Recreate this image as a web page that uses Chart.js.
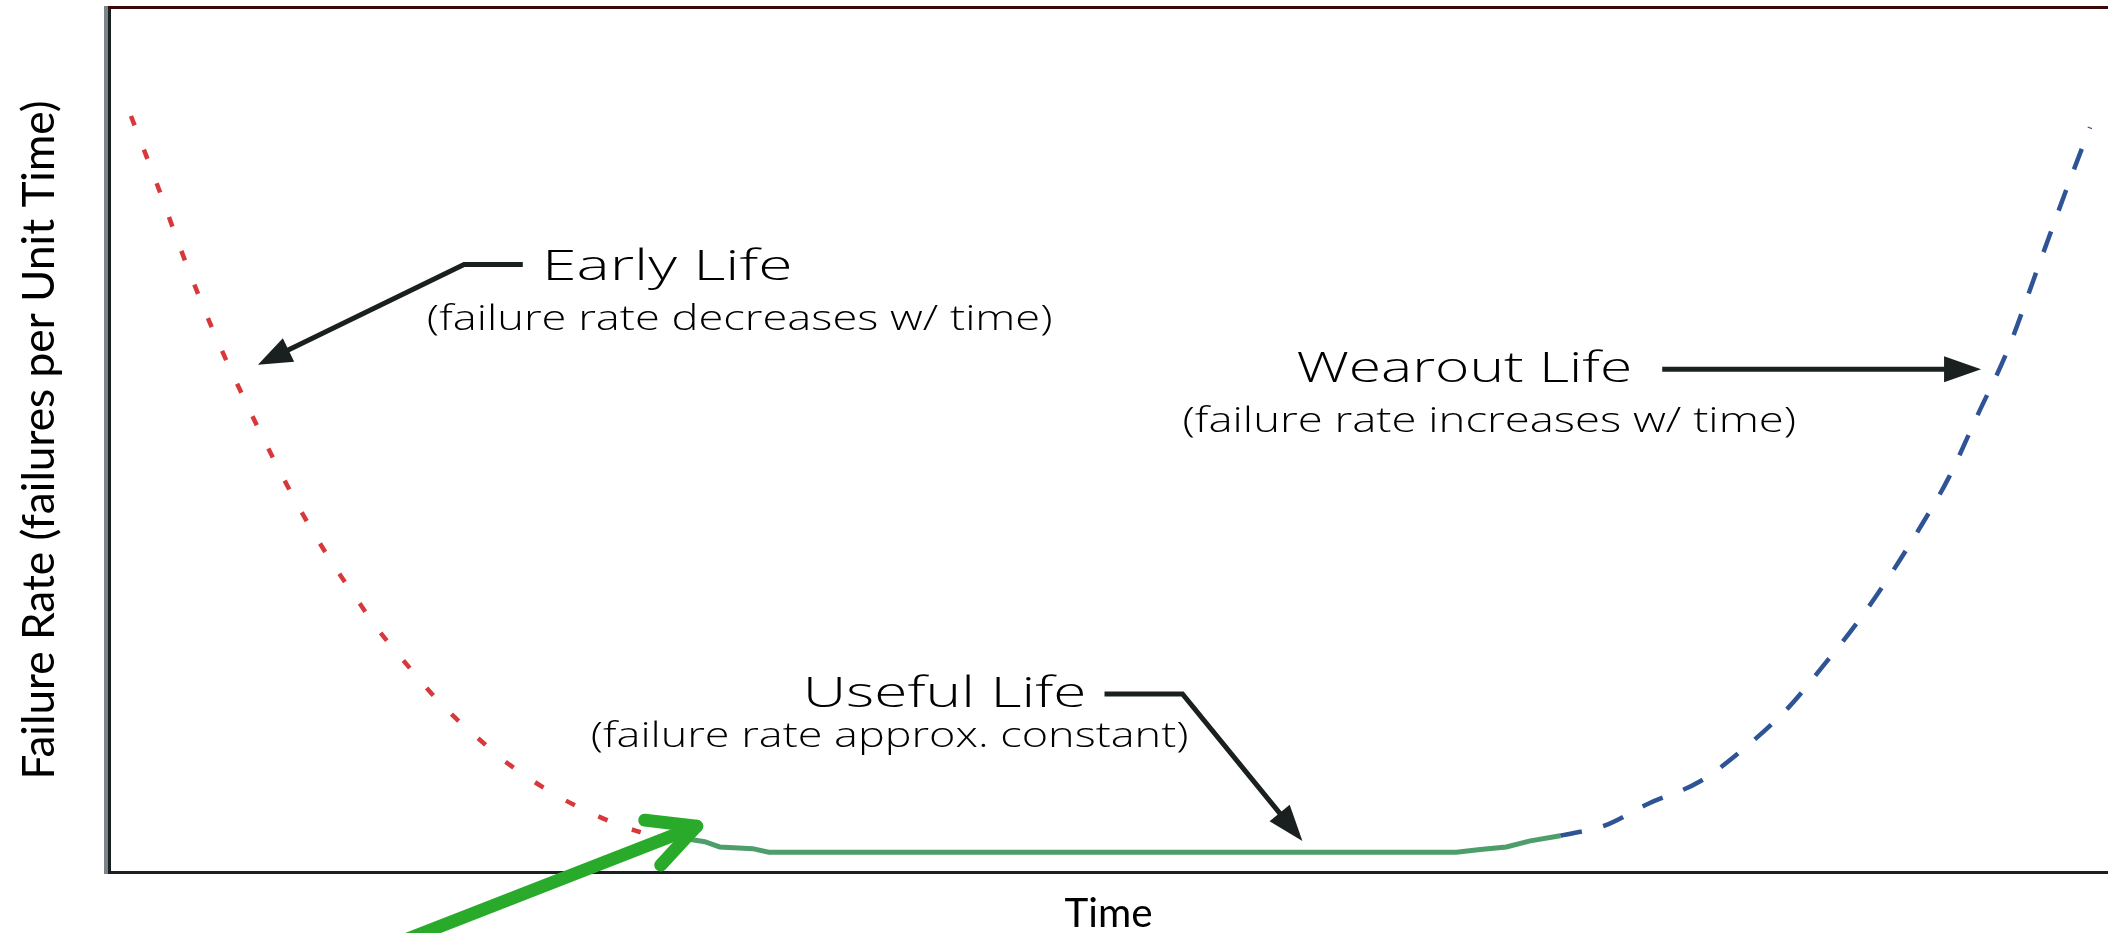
<!DOCTYPE html>
<html><head><meta charset="utf-8">
<script src="https://cdn.jsdelivr.net/npm/chart.js@4.4.1/dist/chart.umd.min.js"></script>
<style>html,body{margin:0;padding:0;background:#fff;overflow:hidden}canvas{display:block}</style>
</head><body>
<canvas id="c" width="2108" height="933"></canvas>
<script>
// ---- data (time units 0-100, failure-rate units 0-100) ----
const earlyX = [1.1, 2.5, 3.6, 5.15, 7.0, 8.3, 9.55, 11.1, 12.3, 13.35, 14.9, 16.0, 17.25, 18.55, 20.05, 22.75, 25.55, 26.6];
const earlyY = [87.5, 79.0, 72.0, 63.0, 53.6, 47.5, 42.0, 36.0, 31.9, 28.4, 24.0, 21.0, 18.0, 15.3, 12.4, 8.4, 5.4, 4.6];
const usefulX = [28.7, 29.8, 30.55, 32.2, 33.0, 67.4, 68.6, 69.9, 71.1, 72.6];
const usefulY = [3.9, 3.5, 2.9, 2.7, 2.3, 2.3, 2.6, 2.9, 3.6, 4.2];
const wearX = [72.6, 74.85, 77.0, 79.6, 81.9, 84.0, 85.8, 87.5, 89.0, 90.5, 92.0, 93.5, 95.0, 96.5, 98.0, 99.1];
const wearY = [4.2, 5.4, 7.9, 10.5, 14.5, 19.0, 24.0, 29.0, 34.0, 39.5, 45.5, 53.0, 60.5, 70.0, 79.5, 86.2];

const xTitle = 'Time';
const yTitle = 'Failure Rate (failures per Unit Time)';

// annotation texts
const earlyText = ['Early Life', '(failure rate decreases w/ time)'];
const usefulText = ['Useful Life', '(failure rate approx. constant)'];
const wearText = ['Wearout Life', '(failure rate increases w/ time)'];

// annotation anchors in data units: [xStart, xEnd, baselineY]
const earlyTextPos = [[21.66, 34.2, 68.5], [15.9, 47.2, 62.7]];
const usefulTextPos = [[34.7, 48.9, 19.1], [24.1, 54.0, 14.5]];
const wearTextPos = [[59.4, 76.2, 56.7], [53.7, 84.4, 50.9]];
const earlyArrow = [[20.7, 70.3], [17.76, 70.3], [7.45, 58.7]];
const usefulArrow = [[49.8, 20.6], [53.7, 20.6], [59.7, 3.6]];
const wearArrow = [[77.7, 58.2], [93.65, 58.2]];
const greenArrow = [[14.0, -8.6], [29.4, 5.3]];
const greenBarbs = [[26.8, 6.0], [27.6, 0.8]];

// ---- fonts ----
const AX_FAMILY = 'Lato';
const mctx = document.createElement('canvas').getContext('2d');
function textW(t, size, fam) { mctx.font = size + 'px ' + fam; return mctx.measureText(t).width; }
const ySize = 44 * 679 / textW(yTitle, 44, AX_FAMILY);
const xSize = 44 * 88 / textW(xTitle, 44, AX_FAMILY);
const yPadTop = 40 - ySize / 2;
const yPadBot = 109 - ySize - yPadTop;
const xPadBot = 19 - xSize / 2;
const xPadTop = 61 - xSize - xPadBot;

function pts(xs, ys) { return xs.map((x, i) => ({x: x, y: ys[i]})); }

function drawFitText(ctx, text, x0, x1, base, cap) {
  const size = cap / 0.714;
  ctx.font = '300 ' + size + 'px "Open Sans", "Liberation Sans", Arial, sans-serif';
  const w = ctx.measureText(text).width;
  ctx.save();
  ctx.translate(x0, base);
  ctx.scale((x1 - x0) / w, 1);
  ctx.textBaseline = 'alphabetic';
  ctx.textAlign = 'left';
  ctx.fillStyle = '#000';
  ctx.fillText(text, 0, 0);
  ctx.restore();
}

function darkArrow(ctx, p, lw, headLen, headHalf) {
  const n = p.length, tip = p[n - 1], prev = p[n - 2];
  const a = Math.atan2(tip.y - prev.y, tip.x - prev.x);
  const bx = tip.x - headLen * Math.cos(a), by = tip.y - headLen * Math.sin(a);
  ctx.save();
  ctx.strokeStyle = '#1a2020'; ctx.fillStyle = '#1a2020';
  ctx.lineWidth = lw; ctx.lineJoin = 'miter'; ctx.lineCap = 'butt';
  ctx.beginPath(); ctx.moveTo(p[0].x, p[0].y);
  for (let i = 1; i < n - 1; i++) ctx.lineTo(p[i].x, p[i].y);
  ctx.lineTo(bx + 2 * Math.cos(a), by + 2 * Math.sin(a));
  ctx.stroke();
  ctx.beginPath();
  ctx.moveTo(tip.x, tip.y);
  ctx.lineTo(bx + headHalf * Math.sin(a), by - headHalf * Math.cos(a));
  ctx.lineTo(bx - headHalf * Math.sin(a), by + headHalf * Math.cos(a));
  ctx.closePath(); ctx.fill();
  ctx.restore();
}

const annotPlugin = {
  id: 'annot',
  beforeDatasetsDraw(chart) {
    const ctx = chart.ctx, ca = chart.chartArea;
    ctx.save();
    ctx.fillStyle = '#7b838b';
    ctx.fillRect(ca.left - 5, ca.top - 2, 4, ca.bottom - ca.top + 4);
    ctx.strokeStyle = '#3a0808'; ctx.lineWidth = 3;
    ctx.beginPath(); ctx.moveTo(ca.left - 1, ca.top - 0.5); ctx.lineTo(chart.width, ca.top - 0.5); ctx.stroke();
    ctx.restore();
  },
  afterDatasetsDraw(chart) {
    const ctx = chart.ctx, sx = chart.scales.x, sy = chart.scales.y;
    const P = (d) => ({x: sx.getPixelForValue(d[0]), y: sy.getPixelForValue(d[1])});
    const texts = [[earlyText, earlyTextPos], [usefulText, usefulTextPos], [wearText, wearTextPos]];
    texts.forEach(([t, pos]) => {
      drawFitText(ctx, t[0], sx.getPixelForValue(pos[0][0]), sx.getPixelForValue(pos[0][1]), sy.getPixelForValue(pos[0][2]), 30);
      drawFitText(ctx, t[1], sx.getPixelForValue(pos[1][0]), sx.getPixelForValue(pos[1][1]), sy.getPixelForValue(pos[1][2]), 25);
    });
    darkArrow(ctx, earlyArrow.map(P), 5, 34, 13);
    darkArrow(ctx, usefulArrow.map(P), 5, 36, 13);
    darkArrow(ctx, wearArrow.map(P), 5, 37, 13);
    // green pointer arrow
    const g = greenArrow.map(P), b = greenBarbs.map(P);
    ctx.save();
    ctx.strokeStyle = '#2aaa2a'; ctx.lineWidth = 13; ctx.lineCap = 'round'; ctx.lineJoin = 'round';
    ctx.beginPath(); ctx.moveTo(g[0].x, g[0].y); ctx.lineTo(g[1].x, g[1].y); ctx.stroke();
    ctx.beginPath(); ctx.moveTo(b[0].x, b[0].y); ctx.lineTo(g[1].x, g[1].y); ctx.lineTo(b[1].x, b[1].y); ctx.stroke();
    ctx.restore();
  }
};

new Chart(document.getElementById('c'), {
  type: 'line',
  data: {
    datasets: [
      {label: 'Early Life', data: pts(earlyX, earlyY), borderColor: '#d8383a', borderWidth: 4.5,
       borderDash: [10, 26], cubicInterpolationMode: 'monotone', pointRadius: 0, fill: false},
      {label: 'Useful Life', data: pts(usefulX, usefulY), borderColor: '#4e9e6c', borderWidth: 5,
       tension: 0, pointRadius: 0, fill: false},
      {label: 'Wearout Life', data: pts(wearX, wearY), borderColor: '#2f5496', borderWidth: 4.5,
       borderDash: [22, 22], cubicInterpolationMode: 'monotone', pointRadius: 0, fill: false}
    ]
  },
  options: {
    responsive: false,
    devicePixelRatio: 1,
    animation: false,
    events: [],
    layout: {padding: {top: 8, right: 0, bottom: 0, left: 0}},
    plugins: {legend: {display: false}, tooltip: {enabled: false}},
    scales: {
      x: {
        type: 'linear', min: 0, max: 100,
        grid: {display: false, drawTicks: false},
        ticks: {display: false},
        border: {display: true, color: '#1a2020', width: 3},
        title: {display: true, text: xTitle, color: '#000',
                font: {family: AX_FAMILY, size: xSize, lineHeight: 1},
                padding: {top: xPadTop, bottom: xPadBot}}
      },
      y: {
        type: 'linear', min: 0, max: 100,
        grid: {display: false, drawTicks: false},
        ticks: {display: false},
        border: {display: true, color: '#1a2020', width: 3},
        title: {display: true, text: yTitle, color: '#000',
                font: {family: AX_FAMILY, size: ySize, lineHeight: 1},
                padding: {top: yPadTop, bottom: yPadBot}}
      }
    }
  },
  plugins: [annotPlugin]
});
</script>
</body></html>
